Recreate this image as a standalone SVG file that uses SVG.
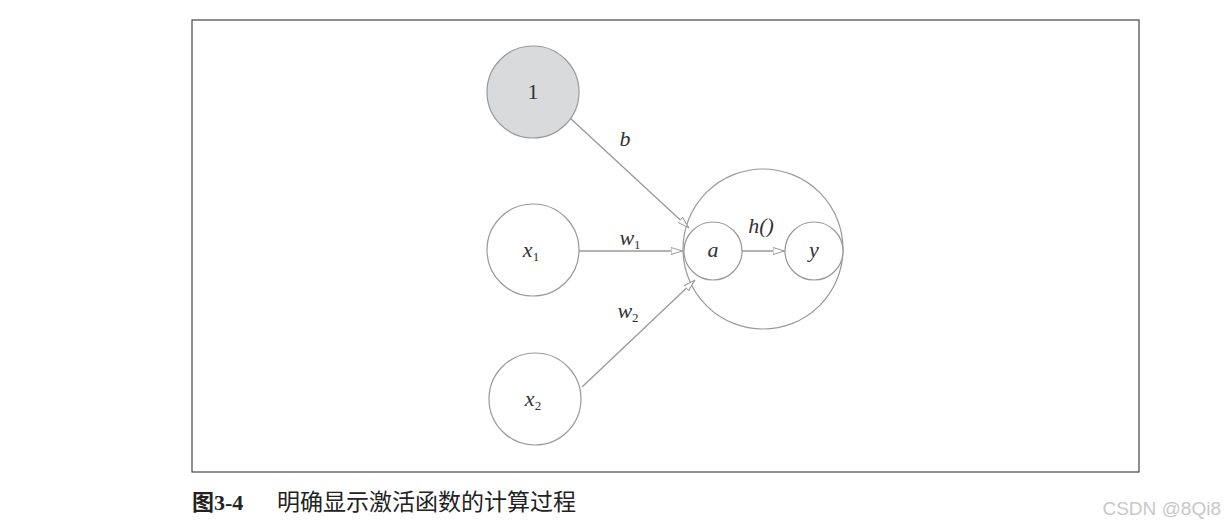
<svg xmlns="http://www.w3.org/2000/svg" width="1224" height="528" viewBox="0 0 1224 528">
<style>
.n{fill:#fff;stroke:#999;stroke-width:1.2}
.e{stroke:#999;stroke-width:1.3;fill:none;marker-end:url(#ah)}
.m{font-family:"Liberation Serif",serif;font-style:italic;font-size:22px;fill:#333;text-anchor:middle}
.s{font-size:13px;font-style:normal}
</style>
<defs><marker id="ah" viewBox="0 0 12 8" refX="12" refY="4" markerWidth="12" markerHeight="8" markerUnits="userSpaceOnUse" orient="auto"><path d="M0,0.5 L11.5,4 L0,7.5 Z" fill="#fff" stroke="#999" stroke-width="1"/></marker></defs>
<rect width="1224" height="528" fill="#fff"/>
<rect x="192" y="20" width="947" height="452" fill="none" stroke="#444" stroke-width="1.2"/>
<g id="big"><circle cx="763" cy="249" r="80" class="n" fill="none"/></g>
<g id="one"><circle cx="533" cy="92" r="46" class="n" style="fill:#d9dadc"/><text x="533" y="99" class="m" style="font-style:normal">1</text></g>
<g id="x1"><circle cx="533" cy="250" r="46" class="n"/><text x="531" y="257" class="m">x<tspan class="s" dy="4">1</tspan></text></g>
<g id="x2"><circle cx="535" cy="399" r="46" class="n"/><text x="533" y="406" class="m">x<tspan class="s" dy="4">2</tspan></text></g>
<g id="a"><circle cx="713" cy="251" r="29" class="n"/><text x="713" y="257" class="m">a</text></g>
<g id="y"><circle cx="814" cy="251" r="29" class="n"/><text x="814" y="257" class="m">y</text></g>
<g id="edges">
<line x1="570" y1="118" x2="689" y2="228" class="e"/>
<line x1="579" y1="251" x2="683" y2="251" class="e"/>
<line x1="582" y1="387" x2="695" y2="280" class="e"/>
<line x1="742" y1="251" x2="785" y2="251" class="e"/>
<text x="625" y="146" class="m">b</text>
<text x="630" y="245" class="m">w<tspan class="s" dy="4">1</tspan></text>
<text x="628" y="318" class="m">w<tspan class="s" dy="4">2</tspan></text>
<text x="761" y="233" class="m">h()</text>
</g>
<text x="192" y="510" font-family="'Liberation Serif','Noto Sans CJK SC',serif" font-size="22" font-weight="bold" fill="#222">图3-4</text>
<text x="277" y="510" font-family="'Noto Sans CJK SC',sans-serif" font-size="23" fill="#222">明确显示激活函数的计算过程</text>
<text x="1221" y="515" text-anchor="end" font-family="'Liberation Sans',sans-serif" font-size="19" fill="#c8c8c8">CSDN @8Qi8</text>
</svg>
